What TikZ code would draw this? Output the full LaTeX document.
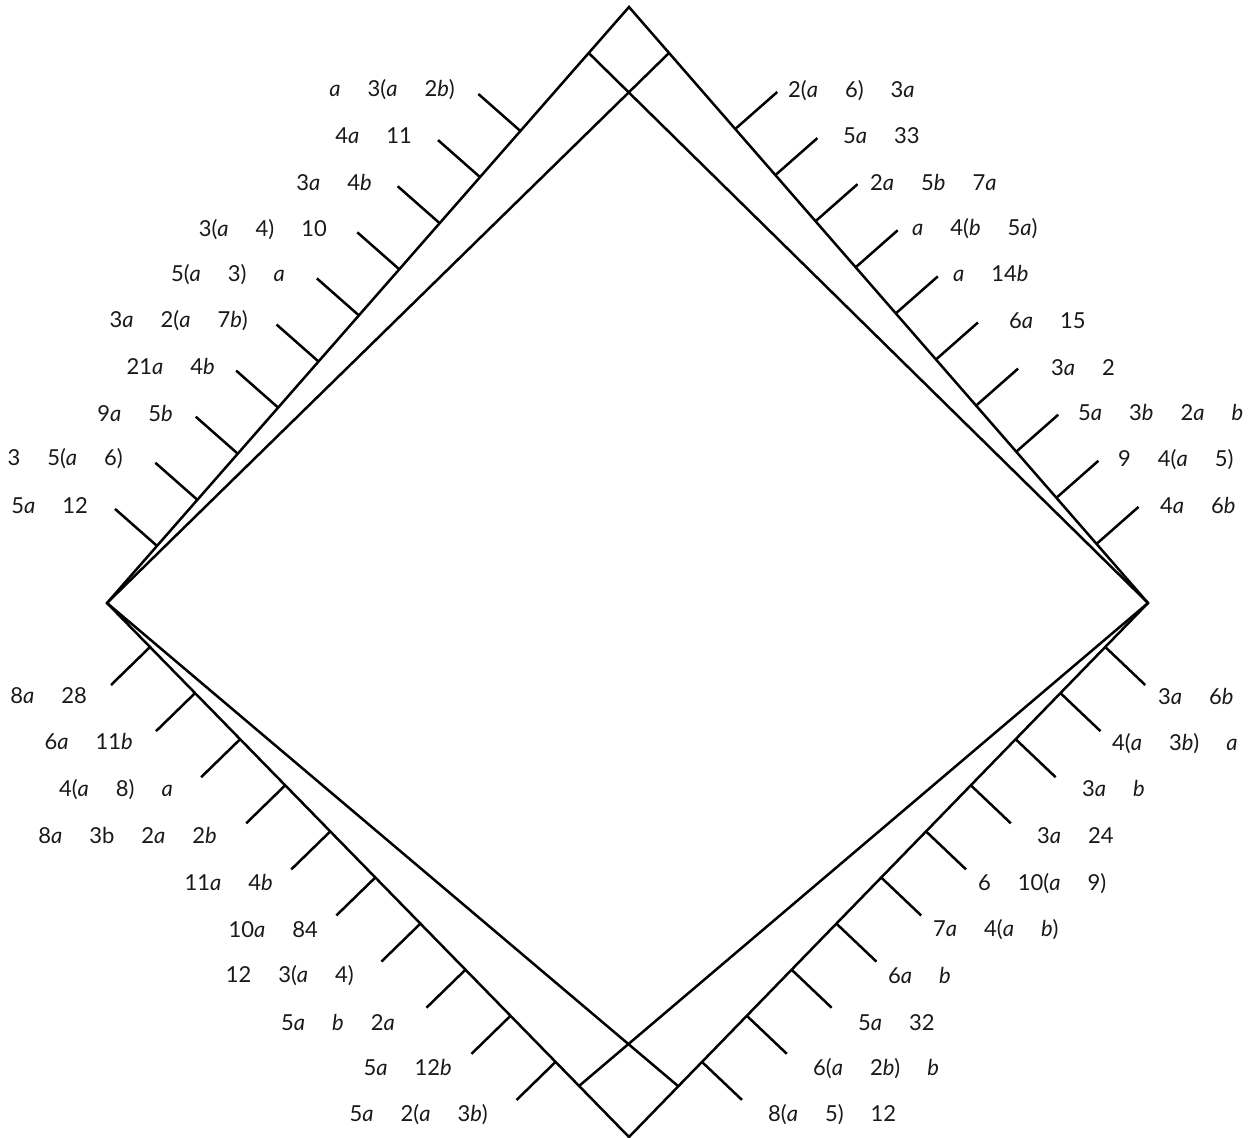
\documentclass[tikz,border=0pt]{standalone}
\usepackage{fontspec}
\setmainfont{Lato}
\newcommand\va{\textit{a}}
\newcommand\vb{\textit{b}}
\newcommand\gp{\hspace{27pt}}
\begin{document}
\begin{tikzpicture}[x=1pt,y=-1pt,
  edge/.style={line width=2.5pt, line join=miter},
  tickline/.style={line width=2.5pt},
  lbl/.style={font=\fontsize{22}{26}\selectfont, inner sep=0pt, text=black!90}]
\useasboundingbox (0,0) rectangle (1251,1138);
% main vertices
\coordinate (T) at (629,7);
\coordinate (L) at (107,603);
\coordinate (R) at (1148,603);
\coordinate (B) at (629,1137);
% inner corner points
\coordinate (ta) at (588.7,53);
\coordinate (tb) at (669,53);
\coordinate (ba) at (579,1086);
\coordinate (bb) at (678,1086);
\draw[edge] (T) -- (L) -- (B) -- (R) -- cycle;
\draw[edge] (ta) -- (R);
\draw[edge] (tb) -- (L);
\draw[edge] (ba) -- (R);
\draw[edge] (bb) -- (L);
% ticks
\foreach \i in {0,...,9} {
  \pgfmathsetmacro\yy{131+46.1*\i}
  \pgfmathsetmacro\xx{629-(\yy-7)*0.87584}
  \coordinate (ul\i) at (\xx,\yy);
  \coordinate (ulo\i) at (\xx-42,\yy-37);
  \draw[tickline] (ul\i) -- (ulo\i);
  \pgfmathsetmacro\yy{129+46.1*\i}
  \pgfmathsetmacro\xx{629+(\yy-7)*0.87081}
  \coordinate (ur\i) at (\xx,\yy);
  \coordinate (uro\i) at (\xx+42,\yy-37);
  \draw[tickline] (ur\i) -- (uro\i);
  \pgfmathsetmacro\yy{647+46.1*\i}
  \pgfmathsetmacro\xx{107+(\yy-603)*0.97753}
  \coordinate (ll\i) at (\xx,\yy);
  \coordinate (llo\i) at (\xx-39,\yy+38);
  \draw[tickline] (ll\i) -- (llo\i);
  \pgfmathsetmacro\yy{647+46.1*\i}
  \pgfmathsetmacro\xx{1148-(\yy-603)*0.97191}
  \coordinate (lr\i) at (\xx,\yy);
  \coordinate (lro\i) at (\xx+40,\yy+38);
  \draw[tickline] (lr\i) -- (lro\i);
}
% upper-left labels
\foreach \t/\x/\y [count=\i] in {
  {\va\gp 3(\va\gp 2\vb)}/455/88,
  {4\va\gp 11}/412/135,
  {3\va\gp 4\vb}/372/182,
  {3(\va\gp 4)\gp 10}/327/228,
  {5(\va\gp 3)\gp \va}/285/273,
  {3\va\gp 2(\va\gp 7\vb)}/248/319,
  {21\va\gp 4\vb}/215/366,
  {9\va\gp 5\vb}/173/413,
  {3\gp 5(\va\gp 6)}/123/457,
  {5\va\gp 12}/88/505}
  \node[lbl, anchor=base east] (tul\i) at (\x,\y+8) {\t};
% upper-right labels
\foreach \t/\x/\y [count=\i] in {
  {2(\va\gp 6)\gp 3\va}/788/89,
  {5\va\gp 33}/843/135,
  {2\va\gp 5\vb\gp 7\va}/870/182,
  {\va\gp 4(\vb\gp 5\va)}/912/227,
  {\va\gp 14\vb}/953/273,
  {6\va\gp 15}/1009/320,
  {3\va\gp 2}/1051/367,
  {5\va\gp 3\vb\gp 2\va\gp \vb}/1078/412,
  {9\gp 4(\va\gp 5)}/1118/458,
  {4\va\gp 6\vb}/1160/505}
  \node[lbl, anchor=base west] (tur\i) at (\x,\y+8) {\t};
% lower-left labels
\foreach \t/\x/\y [count=\i] in {
  {8\va\gp 28}/87/695,
  {6\va\gp 11\vb}/133/741,
  {4(\va\gp 8)\gp \va}/173/788,
  {8\va\gp 3b\gp 2\va\gp 2\vb}/217/835,
  {11\va\gp 4\vb}/273/882,
  {10\va\gp 84}/318/929,
  {12\gp 3(\va\gp 4)}/354/974,
  {5\va\gp \vb\gp 2\va}/395/1022,
  {5\va\gp 12\vb}/452/1067,
  {5\va\gp 2(\va\gp 3\vb)}/488/1113}
  \node[lbl, anchor=base east] (tll\i) at (\x,\y+8) {\t};
% lower-right labels
\foreach \t/\x/\y [count=\i] in {
  {3\va\gp 6\vb}/1158/696,
  {4(\va\gp 3\vb)\gp \va}/1112/742,
  {3\va\gp \vb}/1082/788,
  {3\va\gp 24}/1037/835,
  {6\gp 10(\va\gp 9)}/978/882,
  {7\va\gp 4(\va\gp \vb)}/933/928,
  {6\va\gp \vb}/888/975,
  {5\va\gp 32}/858/1022,
  {6(\va\gp 2\vb)\gp \vb}/813/1067,
  {8(\va\gp 5)\gp 12}/768/1113}
  \node[lbl, anchor=base west] (tlr\i) at (\x,\y+8) {\t};
\end{tikzpicture}
\end{document}
